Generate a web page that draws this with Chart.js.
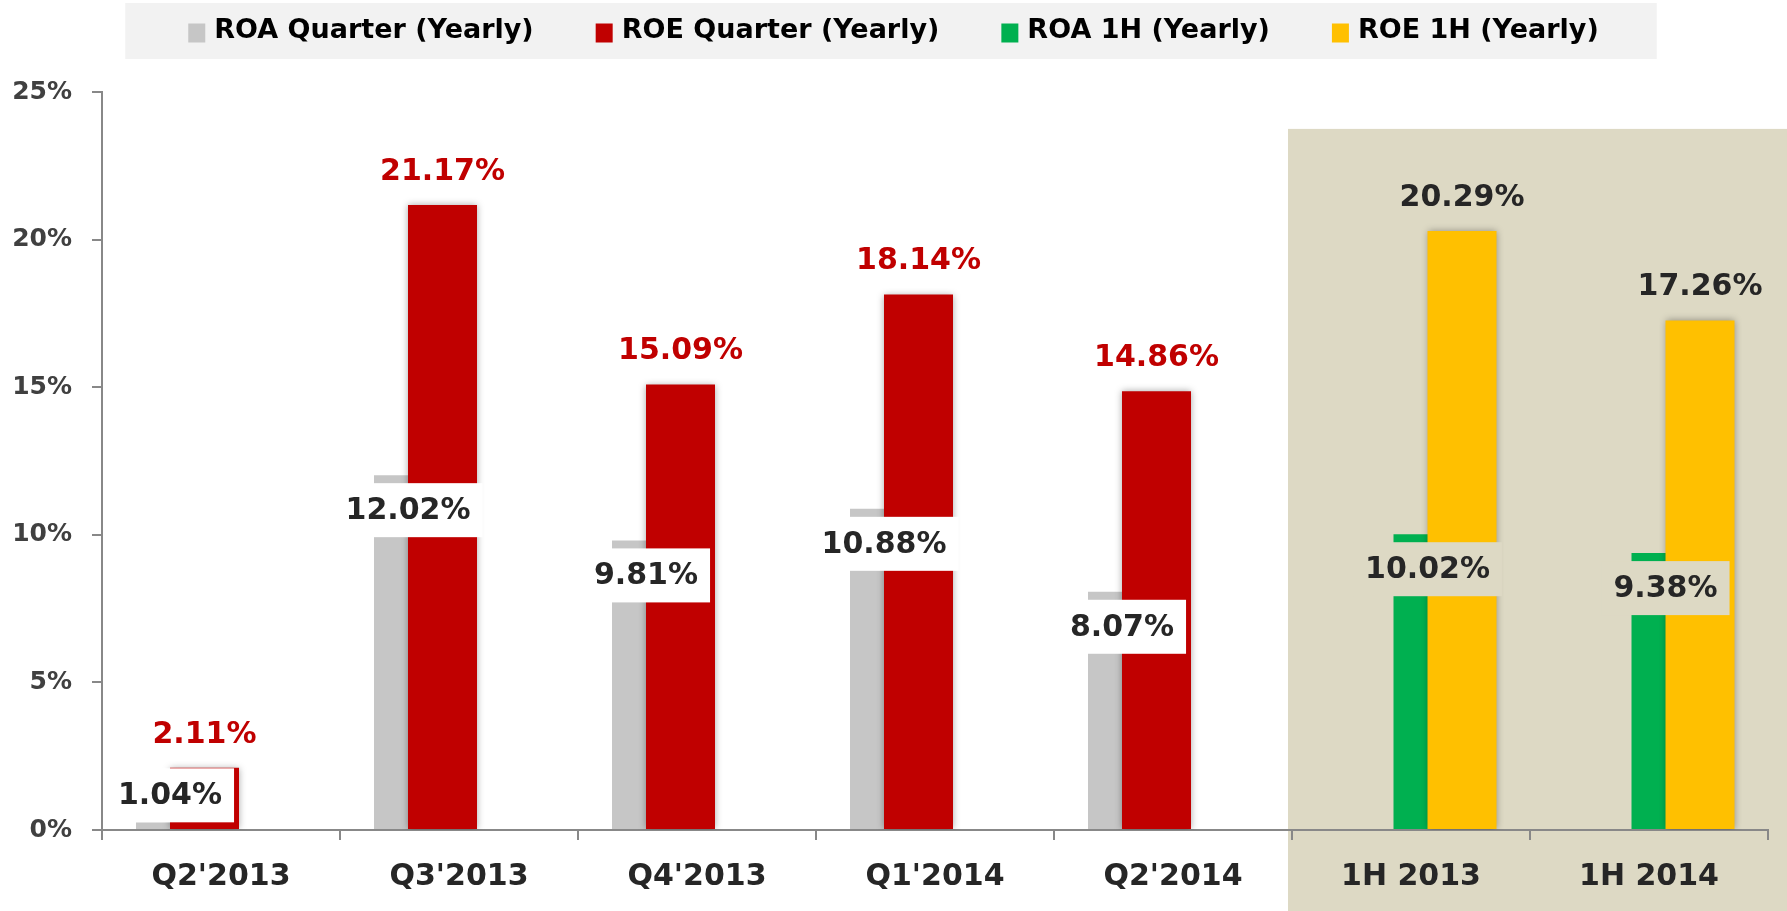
<!DOCTYPE html>
<html>
<head>
<meta charset="utf-8">
<title>ROA / ROE</title>
<script src="https://cdn.jsdelivr.net/npm/chart.js@4/dist/chart.umd.min.js"></script>
<style>
	html, body { margin: 0; padding: 0; background: #ffffff; }
	#chart { display: block; }
</style>
</head>
<body>
<canvas id="chart" width="1787" height="911"></canvas>
<script>
// データ
const categories = ["Q2'2013", "Q3'2013", "Q4'2013", "Q1'2014", "Q2'2014", '1H 2013', '1H 2014'];
const roaQuarter = [0.26, 12.02, 9.81, 10.88, 8.07, null, null];
// バーは四半期値、ラベルは年換算値（Q2'2013だけ一致しない）
const roaQuarterText = ['1.04%', '12.02%', '9.81%', '10.88%', '8.07%', null, null];
const roeQuarter = [2.11, 21.17, 15.09, 18.14, 14.86, null, null];
const roa1H = [null, null, null, null, null, 10.02, 9.38];
const roe1H = [null, null, null, null, null, 20.29, 17.26];
const yTicks = [0, 5, 10, 15, 20, 25];
const seriesNames = ['ROA Quarter (Yearly)', 'ROE Quarter (Yearly)', 'ROA 1H (Yearly)', 'ROE 1H (Yearly)'];

const FONT = "'DejaVu Sans', sans-serif";
const BEIGE = '#DDD9C4';
const pct = arr => arr.map(v => v == null ? null : v.toFixed(2) + '%');

// Excel風の重なり配置：4スロット、factor = スロット番号 - 1.5
// offset / width はカテゴリ幅に対する割合
function place(factor, offset, width) {
	const chunk = offset / factor;
	return { categoryPercentage: chunk * 4, barPercentage: width / chunk };
}

// 1H側の背景
const panelPlugin = {
	id: 'panel',
	beforeDraw(chart) {
		const { ctx, scales: { x, y } } = chart;
		const half = (x.getPixelForValue(1) - x.getPixelForValue(0)) / 2;
		const left = x.getPixelForValue(5) - half - 4;
		const top = y.getPixelForValue(23.75);
		ctx.save();
		ctx.fillStyle = BEIGE;
		ctx.fillRect(left, top, chart.width - left, chart.height - top);
		ctx.restore();
	}
};

// ROEバーの影
const shadowPlugin = {
	id: 'barShadow',
	beforeDatasetDraw(chart, args) {
		const ds = chart.data.datasets[args.index];
		chart.ctx.save();
		if (ds.shadow) {
			chart.ctx.shadowColor = 'rgba(0, 0, 0, 0.35)';
			chart.ctx.shadowBlur = 7;
		}
	},
	afterDatasetDraw(chart) {
		chart.ctx.restore();
	}
};

// データラベル
const labelPlugin = {
	id: 'valueLabels',
	afterDatasetsDraw(chart) {
		const ctx = chart.ctx;
		ctx.save();
		ctx.font = 'bold 30px ' + FONT;
		ctx.textAlign = 'center';
		ctx.textBaseline = 'middle';
		// 箱付きラベル（ROA）を後から描く
		const order = [1, 3, 0, 2];
		order.forEach(di => {
			const ds = chart.data.datasets[di];
			const meta = chart.getDatasetMeta(di);
			meta.data.forEach((bar, i) => {
				if (ds.data[i] == null) return;
				const text = ds.labelText[i];
				if (ds.labelBox) {
					const w = ctx.measureText(text).width + 24;
					const h = 54;
					const room = bar.base - bar.y;
					const cy = room > h + 20 ? bar.y + 35 : bar.y - h / 2;
					ctx.fillStyle = ds.labelBox;
					ctx.fillRect(bar.x - w / 2, cy - h / 2, w, h);
					ctx.fillStyle = ds.labelColor;
					ctx.fillText(text, bar.x, cy + 1);
				} else {
					ctx.fillStyle = ds.labelColor;
					ctx.fillText(text, bar.x, bar.y - 33);
				}
			});
		});
		ctx.restore();
	}
};

// 上部の凡例（背景付き）
const legendPlugin = {
	id: 'topLegend',
	afterDraw(chart) {
		const ctx = chart.ctx;
		const sets = chart.data.datasets;
		const sw = 17, sh = 19, gap = 9, itemGap = 62, cy = 31;
		ctx.save();
		ctx.font = 'bold 27px ' + FONT;
		const itemW = sets.map(d => sw + gap + ctx.measureText(d.label).width);
		const total = itemW.reduce((a, b) => a + b, 0) + itemGap * (sets.length - 1);
		const x0 = (chart.width - total) / 2;
		ctx.fillStyle = '#F2F2F2';
		ctx.fillRect(x0 - 63, 3, total + 63 + 58, 56);
		let cx = x0;
		ctx.textBaseline = 'middle';
		ctx.textAlign = 'left';
		sets.forEach((d, i) => {
			ctx.fillStyle = d.backgroundColor;
			ctx.fillRect(cx, cy - sh / 2 + 2, sw, sh);
			ctx.fillStyle = '#000000';
			ctx.fillText(d.label, cx + sw + gap, cy);
			cx += itemW[i] + itemGap;
		});
		ctx.restore();
	}
};

const W = 238; // カテゴリ幅の目安(px)
new Chart(document.getElementById('chart'), {
	type: 'bar',
	data: {
		labels: categories,
		datasets: [{
			label: seriesNames[0],
			data: roaQuarter,
			backgroundColor: '#C6C6C6',
			order: 1,
			...place(-0.5, -51 / W, 68 / W),
			labelText: roaQuarterText,
			labelBox: '#FFFFFF',
			labelColor: '#262626'
		}, {
			label: seriesNames[1],
			data: roeQuarter,
			backgroundColor: '#C00000',
			order: 0,
			shadow: true,
			...place(-1.5, -16.5 / W, 69 / W),
			labelText: pct(roeQuarter),
			labelColor: '#C00000'
		}, {
			label: seriesNames[2],
			data: roa1H,
			backgroundColor: '#00B050',
			order: 3,
			...place(1.5, 16.5 / W, 68 / W),
			labelText: pct(roa1H),
			labelBox: BEIGE,
			labelColor: '#262626'
		}, {
			label: seriesNames[3],
			data: roe1H,
			backgroundColor: '#FFC000',
			order: 2,
			shadow: true,
			...place(0.5, 51 / W, 69 / W),
			labelText: pct(roe1H),
			labelColor: '#262626'
		}]
	},
	options: {
		responsive: false,
		animation: false,
		events: [],
		layout: { padding: { top: 92, right: 19, bottom: 0, left: 0 } },
		plugins: {
			legend: { display: false },
			tooltip: { enabled: false }
		},
		scales: {
			x: {
				grid: { offset: true, drawOnChartArea: false, tickLength: 10, color: '#888888', lineWidth: 2 },
				border: { color: '#888888', width: 2 },
				ticks: {
					color: '#262626',
					font: { family: FONT, size: 30, weight: 'bold' },
					padding: 19,
					maxRotation: 0,
					autoSkip: false
				},
				afterFit: s => { s.height = 81; }
			},
			y: {
				min: 0,
				max: 25,
				grid: { drawOnChartArea: false, tickLength: 10, color: '#888888', lineWidth: 2 },
				border: { color: '#888888', width: 2 },
				ticks: {
					color: '#404040',
					font: { family: FONT, size: 25, weight: 'bold' },
					padding: 20,
					callback: v => v + '%'
				},
				afterBuildTicks: s => { s.ticks = yTicks.map(v => ({ value: v })); },
				afterFit: s => { s.width = 102; }
			}
		}
	},
	plugins: [panelPlugin, shadowPlugin, labelPlugin, legendPlugin]
});
</script>
</body>
</html>
